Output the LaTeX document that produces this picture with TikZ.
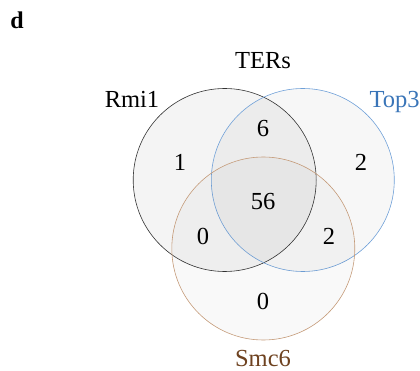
\documentclass[tikz,border=0pt]{standalone}
\usepackage{fontspec}
\setmainfont{Liberation Serif}
\usepackage{tikz}
\usetikzlibrary{positioning}
\definecolor{colRmi}    {HTML}{333333}
\definecolor{colTopLine}{HTML}{6FA0D8}
\definecolor{colTopText}{HTML}{3A75B8}
\definecolor{colSmcLine}{HTML}{C49A78}
\definecolor{colSmcText}{HTML}{6E4220}
\tikzset{
  vset/.style={
    circle, minimum size=183pt, inner sep=0pt,
    line width=0.6pt, fill=black
  },
  rmiset/.style ={vset, draw=colRmi,     fill opacity=0.045},
  topset/.style ={vset, draw=colTopLine, fill opacity=0.03},
  smcset/.style ={vset, draw=colSmcLine, fill opacity=0.022},
  vnum/.style={
    anchor=base, inner sep=0pt,
    font=\fontsize{24.5}{29}\selectfont
  },
  vlabel/.style={vnum}
}
\begin{document}
\begin{tikzpicture}[x=1pt, y=-1pt]
  \useasboundingbox (0,0) rectangle (420,371);
  % panel letter
  \node[anchor=base, inner sep=0pt, font=\fontsize{24}{28}\selectfont\bfseries] (panel) at (17,29) {d};
  % the three sets
  \node[rmiset] (rmi) at (224.7,180) {};
  \node[topset] (top) at (302.8,180) {};
  \node[smcset] (smc) at (263.3,248.5) {};
  % set labels
  \node[vlabel] (ters)  at (263,68.3)  {TERs};
  \node[vlabel] (rmilab) at (132,107.3) {Rmi1};
  \node[vlabel, text=colTopText] (toplab) at (394.5,107.3) {Top3};
  \node[vlabel, text=colSmcText] (smclab) at (263,366.5) {Smc6};
  % counts
  \node[vnum] (nRT)   at (263,136.7) {6};
  \node[vnum] (nR)    at (180,170.7) {1};
  \node[vnum] (nT)    at (361,170.7) {2};
  \node[vnum] (nRTS)  at (263,210)   {56};
  \node[vnum] (nRS)   at (203,245)   {0};
  \node[vnum] (nTS)   at (329,245)   {2};
  \node[vnum] (nS)    at (263,309)   {0};
\end{tikzpicture}
\end{document}
